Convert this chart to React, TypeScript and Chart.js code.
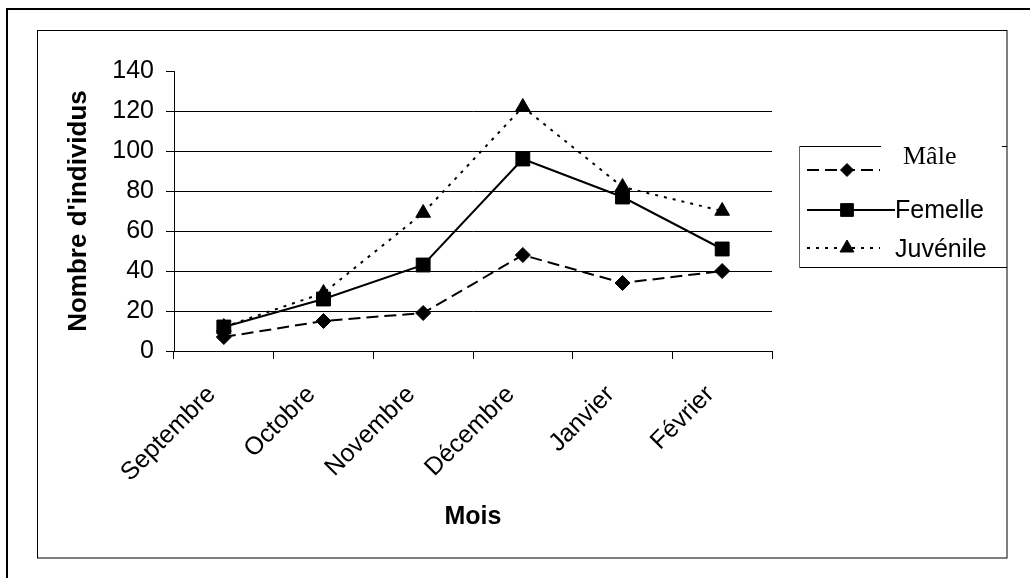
import React, { useEffect, useRef } from 'react';
import { Chart, registerables } from 'chart.js';

Chart.register(...registerables);

// ---- Data ----
const categories = ['Septembre', 'Octobre', 'Novembre', 'Décembre', 'Janvier', 'Février'];
const maleValues = [7, 15, 19, 48, 34, 40];
const femelleValues = [12, 26, 43, 96, 77, 51];
const juvenileValues = [12, 29, 69, 122, 82, 70];
const seriesNames = ['Mâle', 'Femelle', 'Juvénile'];
const yMin = 0;
const yMax = 140;
const yStep = 20;
const xAxisTitle = 'Mois';
const yAxisTitle = "Nombre d'individus";

const SANS = '"Liberation Sans", Arial, Helvetica, sans-serif';
const SERIF = '"Liberation Serif", "Times New Roman", Times, serif';

function drawMarker(ctx: CanvasRenderingContext2D, style: string, x: number, y: number, r: number) {
  ctx.save();
  ctx.setLineDash([]);
  ctx.fillStyle = '#000';
  ctx.strokeStyle = '#000';
  ctx.lineWidth = 1;
  ctx.beginPath();
  if (style === 'rectRot') {
    ctx.moveTo(x, y - r);
    ctx.lineTo(x + r, y);
    ctx.lineTo(x, y + r);
    ctx.lineTo(x - r, y);
    ctx.closePath();
  } else if (style === 'rect') {
    const s = r * Math.SQRT1_2;
    ctx.rect(x - s, y - s, 2 * s, 2 * s);
  } else {
    ctx.moveTo(x, y - r);
    ctx.lineTo(x + r * Math.sin(Math.PI / 3), y + r * 0.5);
    ctx.lineTo(x - r * Math.sin(Math.PI / 3), y + r * 0.5);
    ctx.closePath();
  }
  ctx.fill();
  ctx.stroke();
  ctx.restore();
}

const framePlugin = {
  id: 'frame',
  beforeDraw(chart: any) {
    const ctx = chart.ctx as CanvasRenderingContext2D;
    ctx.save();
    ctx.fillStyle = '#fff';
    ctx.fillRect(0, 0, chart.width, chart.height);
    // outer frame (continues past the right and bottom edges)
    ctx.strokeStyle = '#000';
    ctx.lineWidth = 2;
    ctx.beginPath();
    ctx.moveTo(7, chart.height + 5);
    ctx.lineTo(7, 9);
    ctx.lineTo(chart.width + 5, 9);
    ctx.stroke();
    // inner frame
    ctx.lineWidth = 1;
    ctx.strokeRect(37.5, 30.5, 969.5, 527.5);
    ctx.restore();
  },
  afterDraw(chart: any) {
    const ctx = chart.ctx as CanvasRenderingContext2D;
    const ds = chart.data.datasets;
    ctx.save();
    // legend box (partial borders as in reference)
    ctx.lineWidth = 1;
    ctx.strokeStyle = '#000';
    ctx.beginPath();
    ctx.moveTo(799.5, 146.5);
    ctx.lineTo(881, 146.5);
    ctx.moveTo(1002, 146.5);
    ctx.lineTo(1007, 146.5);
    ctx.moveTo(799.5, 267.5);
    ctx.lineTo(1007, 267.5);
    ctx.stroke();
    ctx.strokeStyle = '#666';
    ctx.beginPath();
    ctx.moveTo(799.5, 146.5);
    ctx.lineTo(799.5, 267.5);
    ctx.stroke();

    const rows = [
      { lineY: 170, x1: 807, x2: 880, textX: 903, textY: 164, font: `26px ${SERIF}`, r: 6.5 },
      { lineY: 210, x1: 807, x2: 895, textX: 895, textY: 218, font: `25px ${SANS}`, r: 9 },
      { lineY: 248, x1: 807, x2: 880, textX: 895, textY: 257, font: `25px ${SANS}`, r: 8 },
    ];
    rows.forEach((row, i) => {
      const d = ds[i];
      ctx.strokeStyle = '#000';
      ctx.lineWidth = d.borderWidth;
      ctx.setLineDash(d.borderDash || []);
      ctx.beginPath();
      ctx.moveTo(row.x1, row.lineY);
      ctx.lineTo(row.x2, row.lineY);
      ctx.stroke();
      drawMarker(ctx, d.pointStyle, 847, row.lineY, row.r);
      ctx.setLineDash([]);
      ctx.fillStyle = '#000';
      ctx.font = row.font;
      ctx.textBaseline = 'alphabetic';
      ctx.textAlign = 'left';
      ctx.fillText(d.label, row.textX, row.textY);
    });
    ctx.restore();
  },
};

export default function App() {
  const canvasRef = useRef<HTMLCanvasElement | null>(null);

  useEffect(() => {
    document.body.style.margin = '0';
    document.body.style.overflow = 'hidden';
    if (!canvasRef.current) return;
    const chart = new Chart(canvasRef.current, {
      type: 'line',
      data: {
        labels: categories,
        datasets: [
          {
            label: seriesNames[0],
            data: maleValues,
            borderColor: '#000',
            backgroundColor: '#000',
            borderWidth: 2,
            borderDash: [12, 6],
            pointStyle: 'rectRot',
            pointRadius: 7.5,
            pointBackgroundColor: '#000',
            pointBorderColor: '#000',
            pointBorderWidth: 1,
            tension: 0,
          },
          {
            label: seriesNames[1],
            data: femelleValues,
            borderColor: '#000',
            backgroundColor: '#000',
            borderWidth: 2,
            borderDash: [],
            pointStyle: 'rect',
            pointRadius: 9.8,
            pointBackgroundColor: '#000',
            pointBorderColor: '#000',
            pointBorderWidth: 1,
            tension: 0,
          },
          {
            label: seriesNames[2],
            data: juvenileValues,
            borderColor: '#000',
            backgroundColor: '#000',
            borderWidth: 2,
            borderDash: [3, 6],
            pointStyle: 'triangle',
            pointRadius: 8.5,
            pointBackgroundColor: '#000',
            pointBorderColor: '#000',
            pointBorderWidth: 1,
            tension: 0,
          },
        ],
      },
      options: {
        animation: false,
        responsive: false,
        maintainAspectRatio: false,
        layout: { padding: { left: 0, top: 71, right: 258, bottom: 0 } },
        plugins: {
          legend: { display: false },
          tooltip: { enabled: false },
        },
        scales: {
          x: {
            type: 'category',
            offset: true,
            afterFit: (scale: any) => {
              scale.height = 227;
            },
            grid: {
              display: true,
              drawOnChartArea: false,
              drawTicks: true,
              offset: true,
              tickLength: 8,
              color: '#000',
              lineWidth: 1,
            },
            border: { display: true, color: '#000', width: 1 },
            ticks: {
              color: '#000',
              font: { family: SANS, size: 25 },
              minRotation: 45,
              maxRotation: 45,
              autoSkip: false,
              padding: 21,
              labelOffset: -12,
            },
            title: {
              display: true,
              text: xAxisTitle,
              color: '#000',
              font: { family: SANS, size: 25, weight: 'bold' },
              padding: { top: 0, bottom: 46 },
            },
          },
          y: {
            min: yMin,
            max: yMax,
            afterFit: (scale: any) => {
              scale.width = 174;
            },
            grid: {
              display: true,
              drawTicks: true,
              tickLength: 8,
              lineWidth: 1,
              color: (c: any) => {
                const v = c.tick ? c.tick.value : null;
                return v === yMin || v === yMax ? 'rgba(0,0,0,0)' : '#000';
              },
              tickColor: '#000',
            },
            border: { display: true, color: '#000', width: 1 },
            ticks: {
              stepSize: yStep,
              color: '#000',
              font: { family: SANS, size: 25 },
              padding: 12,
            },
            title: {
              display: true,
              text: yAxisTitle,
              color: '#000',
              font: { family: SANS, size: 26, weight: 'bold' },
              padding: { top: 63, bottom: 0 },
            },
          },
        },
      },
      plugins: [framePlugin],
    });
    return () => chart.destroy();
  }, []);

  return (
    <div style={{ position: 'absolute', left: 0, top: 0, width: 1030, height: 578, background: '#fff' }}>
      <canvas ref={canvasRef} width={1030} height={578} style={{ display: 'block', width: 1030, height: 578 }} />
    </div>
  );
}
